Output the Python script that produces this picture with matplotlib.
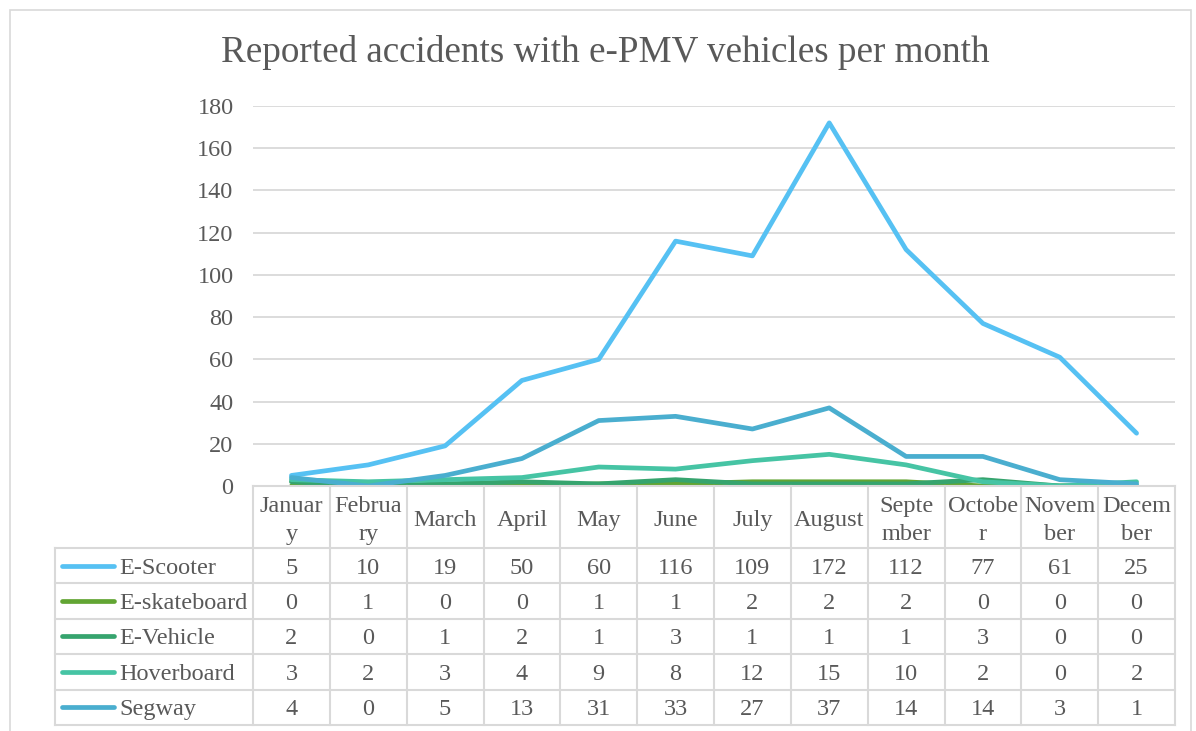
import matplotlib.pyplot as plt
from matplotlib.patches import Rectangle

plt.rcParams['font.family'] = ['Liberation Serif', 'DejaVu Serif']

months = ['January', 'February', 'March', 'April', 'May', 'June', 'July',
          'August', 'September', 'October', 'November', 'December']
# header labels as wrapped in the original table cells
month_labels = ['Januar\ny', 'Februa\nry', 'March', 'April', 'May', 'June', 'July',
                'August', 'Septe\nmber', 'Octobe\nr', 'Novem\nber', 'Decem\nber']

e_scooter = [5, 10, 19, 50, 60, 116, 109, 172, 112, 77, 61, 25]
e_skateboard = [0, 1, 0, 0, 1, 1, 2, 2, 2, 0, 0, 0]
e_vehicle = [2, 0, 1, 2, 1, 3, 1, 1, 1, 3, 0, 0]
hoverboard = [3, 2, 3, 4, 9, 8, 12, 15, 10, 2, 0, 2]
segway = [4, 0, 5, 13, 31, 33, 27, 37, 14, 14, 3, 1]

series = [('E-Scooter', e_scooter, '#56C1F3'),
          ('E-skateboard', e_skateboard, '#62A533'),
          ('E-Vehicle', e_vehicle, '#36A46E'),
          ('Hoverboard', hoverboard, '#46C4A4'),
          ('Segway', segway, '#4AAECF')]

txt = '#595959'
grid_c = '#D9D9D9'
fs = 17.5
W, H = 1196, 731

fig = plt.figure(figsize=(W / 100, H / 100), dpi=100)
fig.patches.append(Rectangle((10 / W, -0.1), (1191 - 10) / W, 1.1 - 10 / H,
                             transform=fig.transFigure, fill=False,
                             edgecolor=grid_c, linewidth=1.2))

x0, x1 = 253, 1175
ax = fig.add_axes([x0 / W, 1 - 486 / H, (x1 - x0) / W, (486 - 106) / H])
xs = list(range(len(months)))
for name, vals, col in series:
    ax.plot(xs, vals, color=col, linewidth=3.4, solid_capstyle='round', zorder=3)

ax.set_xlim(-0.5, len(months) - 0.5)
ax.set_ylim(0, 180)
ax.set_yticks(range(0, 181, 20))
ax.tick_params(axis='y', length=0, pad=14, labelsize=fs, labelcolor=txt)
ax.set_xticks([])
ax.grid(axis='y', color=grid_c, linewidth=1.3)
ax.set_axisbelow(True)
for s in ax.spines.values():
    s.set_visible(False)

fig.text(605 / W, 1 - 53 / H, 'Reported accidents with e-PMV vehicles per month',
         ha='center', va='center', fontsize=26.7, color=txt)

# data table below the plot
tb = fig.add_axes([x0 / W, 1 - 725 / H, (x1 - x0) / W, (725 - 486) / H])
tb.set_xlim(-0.5, len(months) - 0.5)
hdr = 1.75
nrow = len(series)
tb.set_ylim(hdr + nrow, 0)
tb.axis('off')
colw = (x1 - x0) / len(months)
left = -0.5 - (x0 - 55) / colw
kw = dict(color=grid_c, linewidth=1.5, clip_on=False)
dy = 0.07  # nudge text down a little, like the original cells

tb.plot([-0.5, 11.5], [0, 0], **kw)
for r in range(nrow + 1):
    tb.plot([left, 11.5], [hdr + r, hdr + r], **kw)
for c in range(len(months) + 1):
    tb.plot([c - 0.5, c - 0.5], [0, hdr + nrow], **kw)
tb.plot([left, left], [hdr, hdr + nrow], **kw)

for i, lab in enumerate(month_labels):
    tb.text(i, hdr / 2 + 0.09, lab, ha='center', va='center', fontsize=fs,
            color=txt, linespacing=1.42)

for r, (name, vals, col) in enumerate(series):
    yc = hdr + r + 0.5
    tb.plot([-0.5 - (x0 - 62) / colw, -0.5 - (x0 - 114) / colw], [yc, yc],
            color=col, linewidth=3.4, solid_capstyle='round', clip_on=False)
    tb.text(-0.5 - (x0 - 119) / colw, yc + dy, name, ha='left', va='center',
            fontsize=fs, color=txt, clip_on=False)
    for i, v in enumerate(vals):
        tb.text(i, yc + dy, str(v), ha='center', va='center', fontsize=fs, color=txt)

fig.savefig('out.png', dpi=100)
